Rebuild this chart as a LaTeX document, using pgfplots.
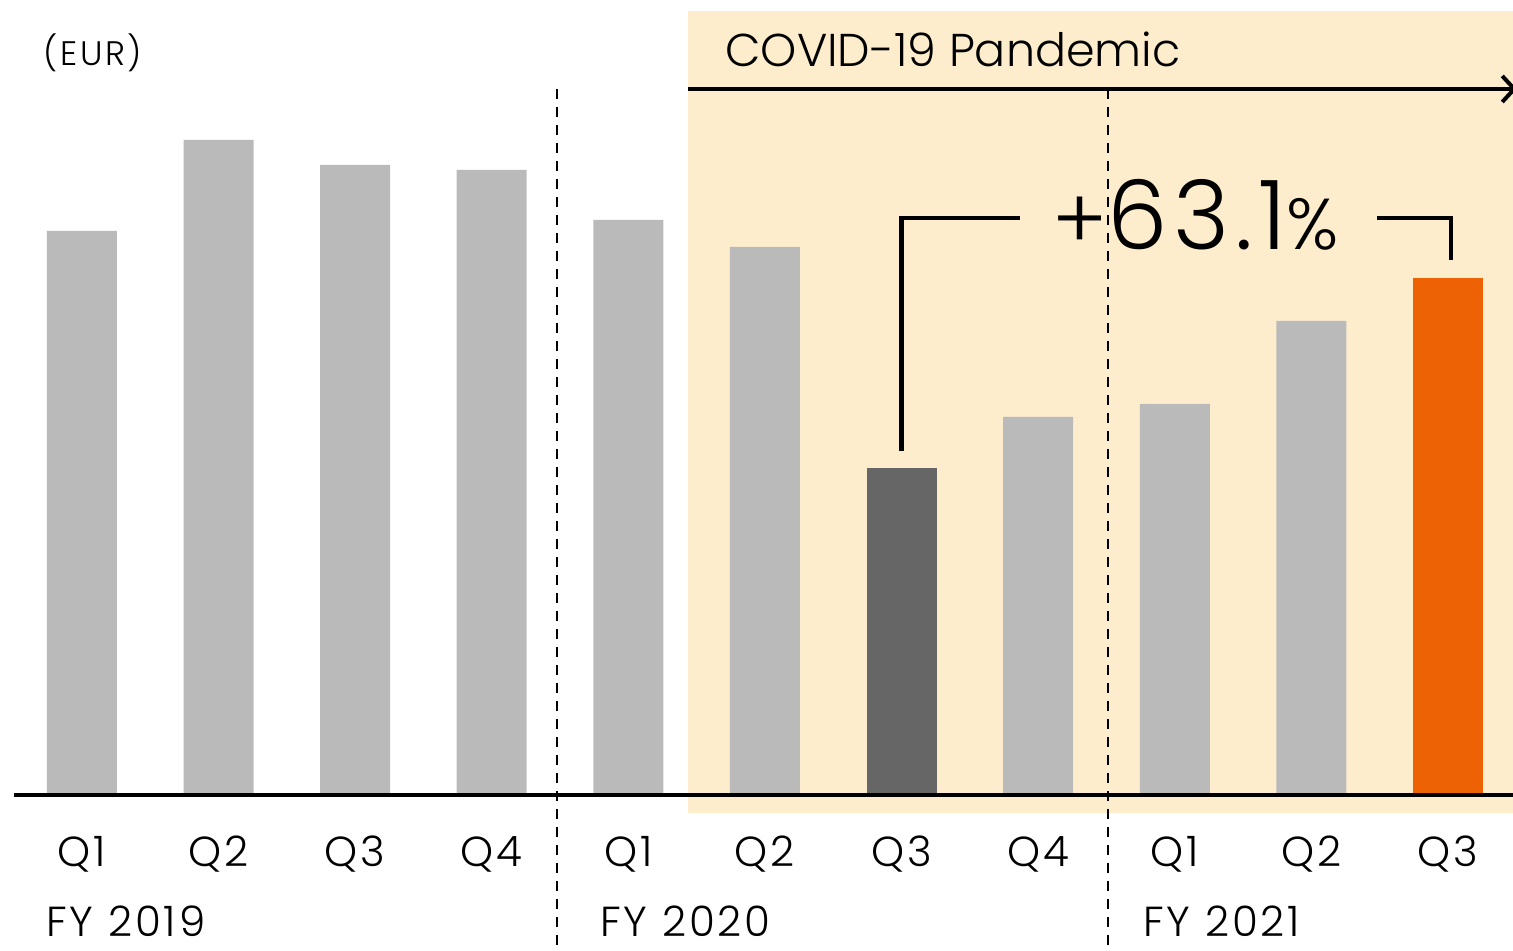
\documentclass[border=0pt]{standalone}
\usepackage{pgfplots}
\pgfplotsset{compat=1.18}
\usepackage{fontspec}
\setmainfont{Poppins Light}
\usetikzlibrary{arrows.meta}

\definecolor{barGrey}{HTML}{BABABA}
\definecolor{barDark}{HTML}{666666}
\definecolor{barOrange}{HTML}{EC6205}
\definecolor{covidBg}{HTML}{FDEDCD}

% tracked label font
\newcommand\labelfont{\fontsize{21}{24}\selectfont\addfontfeature{LetterSpace=7}}

\begin{document}
\begin{tikzpicture}
\begin{axis}[
  at={(6.8pt,79pt)}, anchor=south west,
  scale only axis, width=749.7pt, height=396.5pt,
  xmin=-0.5, xmax=10.476, ymin=0, ymax=793,
  set layers, clip=false,
  hide y axis,
  axis x line*=bottom,
  x axis line style={draw=none},
  xtick={0,...,10},
  xticklabels={Q1,Q2,Q3,Q4,Q1,Q2,Q3,Q4,Q1,Q2,Q3},
  major tick length=0pt,
  xticklabel style={font=\labelfont, anchor=base, yshift=-37pt},
  ybar, bar width=35pt,
]
% pandemic period shading
\fill[covidBg, on layer=axis background] (axis cs:4.436,-20) rectangle (axis cs:10.6,782);

% quarterly values
\addplot[fill=barGrey, draw=none, bar shift=0pt] coordinates
  {(0,562) (1,653) (2,628) (3,623) (4,573) (5,546) (7,376) (8,389) (9,472)};
\addplot[fill=barDark, draw=none, bar shift=0pt] coordinates {(6,325)};
\addplot[fill=barOrange, draw=none, bar shift=0pt] coordinates {(10,515)};

% baseline
\draw[line width=1.8pt] (axis cs:-0.5,-1.8) -- (axis cs:10.6,-1.8);

% fiscal year separators
\draw[line width=1.2pt, dash pattern=on 5pt off 4pt] (axis cs:3.477,704) -- (axis cs:3.477,-185);
\draw[line width=1.2pt, dash pattern=on 5pt off 4pt] (axis cs:7.51,704) -- (axis cs:7.51,-185);

% pandemic arrow and title
\draw[line width=2pt, -{Straight Barb[length=6pt, width=13pt]}] (axis cs:4.436,704) -- (axis cs:10.505,704);
\node[anchor=base west, inner sep=0, font=\fontsize{23}{26}\selectfont] at (axis cs:4.707,726) {COVID-19 Pandemic};

% growth bracket
\draw[line width=2.2pt] (axis cs:6,342) -- (axis cs:6,575) -- (axis cs:6.867,575);
\draw[line width=2.2pt] (axis cs:9.48,575) -- (axis cs:10.02,575) -- (axis cs:10.02,533);
\node[anchor=base west, inner sep=0] at (axis cs:7.10,543)
  {\fontsize{48}{50}\selectfont\addfontfeature{LetterSpace=6}{\fontsize{42}{44}\selectfont+}63.1{\fontsize{36}{38}\selectfont\%}};

% unit and fiscal year labels
\node[anchor=base west, inner sep=0, font=\fontsize{17}{20}\selectfont\addfontfeature{LetterSpace=8}] at (axis cs:-0.2855,727) {(EUR)};
\node[anchor=base west, inner sep=0, font=\labelfont] at (axis cs:-0.2635,-144) {FY 2019};
\node[anchor=base west, inner sep=0, font=\labelfont] at (axis cs:3.792,-144) {FY 2020};
\node[anchor=base west, inner sep=0, font=\labelfont] at (axis cs:7.767,-144) {FY 2021};
\end{axis}
\pgfresetboundingbox
\path[use as bounding box] (0,0) rectangle (756.5pt,475.5pt);
\end{tikzpicture}
\end{document}
